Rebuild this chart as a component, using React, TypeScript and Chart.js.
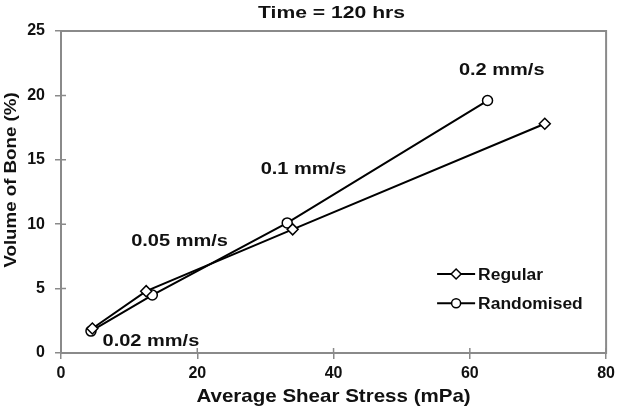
import React, { useEffect, useRef } from "react";
import { Chart, registerables } from "chart.js";

Chart.register(...registerables);

const seriesNames = ["Regular", "Randomised"];
const regularX = [4.6, 12.5, 34.0, 71.0];
const regularY = [1.9, 4.8, 9.6, 17.8];
const randomX = [4.4, 13.4, 33.2, 62.6];
const randomY = [1.7, 4.5, 10.1, 19.6];
const speedLabels = ["0.02 mm/s", "0.05 mm/s", "0.1 mm/s", "0.2 mm/s"];
const speedLabelX = [6.1, 10.3, 29.3, 58.4];
const speedLabelY = [0.57, 8.32, 13.9, 21.6];
const xTicks = [0, 20, 40, 60, 80];
const yTicks = [0, 5, 10, 15, 20, 25];
const titleText = "Time = 120 hrs";
const xTitle = "Average Shear Stress (mPa)";
const yTitle = "Volume of Bone (%)";

const FONT = "'Liberation Sans', Arial, sans-serif";
const AXIS_GRAY = "#8a8a8a";
const TEXT = "#111";

function drawText(
  ctx: CanvasRenderingContext2D,
  text: string,
  x: number,
  y: number,
  size: number,
  sx: number,
  align: CanvasTextAlign,
  rotate = false
) {
  ctx.save();
  ctx.translate(x, y);
  if (rotate) ctx.rotate(-Math.PI / 2);
  ctx.scale(sx, 1);
  ctx.font = `bold ${size}px ${FONT}`;
  ctx.fillStyle = TEXT;
  ctx.textAlign = align;
  ctx.textBaseline = "alphabetic";
  ctx.fillText(text, 0, 0);
  ctx.restore();
}

const decorPlugin = {
  id: "decor",
  beforeDatasetsDraw(chart: any) {
    const { ctx, chartArea: a, scales } = chart;
    ctx.save();
    ctx.strokeStyle = AXIS_GRAY;
    ctx.lineWidth = 2;
    ctx.strokeRect(a.left, a.top, a.right - a.left, a.bottom - a.top);
    ctx.lineWidth = 1.5;
    ctx.beginPath();
    xTicks.forEach((v) => {
      const px = scales.x.getPixelForValue(v);
      ctx.moveTo(px, a.bottom);
      ctx.lineTo(px, a.bottom - 5);
    });
    yTicks.forEach((v) => {
      const py = scales.y.getPixelForValue(v);
      ctx.moveTo(a.left, py);
      ctx.lineTo(a.left + 5, py);
    });
    ctx.stroke();
    ctx.restore();
  },
  afterDraw(chart: any) {
    const { ctx, chartArea: a, scales } = chart;
    const cx = (a.left + a.right) / 2;
    // title
    drawText(ctx, titleText, cx - 2, 17.5, 16, 1.32, "center");
    // axis titles
    drawText(ctx, xTitle, cx, 401.5, 18.5, 1.11, "center");
    drawText(ctx, yTitle, 16, 180, 17, 1.1, "center", true);
    // speed annotations
    speedLabels.forEach((t, i) => {
      drawText(
        ctx,
        t,
        scales.x.getPixelForValue(speedLabelX[i]),
        scales.y.getPixelForValue(speedLabelY[i]),
        16,
        1.25,
        "left"
      );
    });
    // legend
    const lx0 = a.right - 169;
    const lx1 = a.right - 131;
    const rows = [a.bottom - 79, a.bottom - 49.7];
    chart.data.datasets.forEach((ds: any, i: number) => {
      const y = rows[i];
      ctx.save();
      ctx.strokeStyle = "#000";
      ctx.lineWidth = 2;
      ctx.beginPath();
      ctx.moveTo(lx0, y);
      ctx.lineTo(lx1, y);
      ctx.stroke();
      ctx.fillStyle = "#fff";
      ctx.lineWidth = 1.5;
      const mx = (lx0 + lx1) / 2;
      ctx.beginPath();
      if (ds.pointStyle === "rectRot") {
        ctx.moveTo(mx, y - 5);
        ctx.lineTo(mx + 5, y);
        ctx.lineTo(mx, y + 5);
        ctx.lineTo(mx - 5, y);
        ctx.closePath();
      } else {
        ctx.arc(mx, y, 4.5, 0, Math.PI * 2);
      }
      ctx.fill();
      ctx.stroke();
      ctx.restore();
      drawText(ctx, ds.label, lx1 + 3, y + 6, 16, 1.09, "left");
    });
  },
};

export default function App() {
  const ref = useRef<HTMLCanvasElement>(null);
  useEffect(() => {
    if (!ref.current) return;
    const chart = new Chart(ref.current, {
      type: "scatter",
      data: {
        datasets: [
          {
            label: seriesNames[0],
            data: regularX.map((x, i) => ({ x, y: regularY[i] })),
            showLine: true,
            borderColor: "#000",
            borderWidth: 2,
            pointStyle: "rectRot",
            pointRadius: 5.5,
            pointBackgroundColor: "#fff",
            pointBorderColor: "#000",
            pointBorderWidth: 1.5,
          },
          {
            label: seriesNames[1],
            data: randomX.map((x, i) => ({ x, y: randomY[i] })),
            showLine: true,
            borderColor: "#000",
            borderWidth: 2,
            pointStyle: "circle",
            pointRadius: 5,
            pointBackgroundColor: "#fff",
            pointBorderColor: "#000",
            pointBorderWidth: 1.5,
          },
        ],
      },
      options: {
        animation: false,
        responsive: true,
        maintainAspectRatio: false,
        layout: { padding: { top: 31, right: 12, left: 0, bottom: 0 } },
        plugins: {
          legend: { display: false },
          title: { display: false },
          tooltip: { enabled: false },
        },
        scales: {
          x: {
            type: "linear",
            min: 0,
            max: 80,
            afterBuildTicks: (s: any) => {
              s.ticks = xTicks.map((v) => ({ value: v }));
            },
            afterFit: (s: any) => {
              s.height = 56;
            },
            grid: { drawOnChartArea: false, drawTicks: true, tickLength: 6, color: AXIS_GRAY, lineWidth: 1.5 },
            border: { display: false },
            ticks: { color: TEXT, font: { family: FONT, size: 16, weight: "bold" }, padding: 5 },
            title: { display: false },
          },
          y: {
            type: "linear",
            min: 0,
            max: 25,
            afterBuildTicks: (s: any) => {
              s.ticks = yTicks.map((v) => ({ value: v }));
            },
            afterFit: (s: any) => {
              s.width = 61;
            },
            grid: { drawOnChartArea: false, drawTicks: true, tickLength: 6, color: AXIS_GRAY, lineWidth: 1.5 },
            border: { display: false },
            ticks: { color: TEXT, font: { family: FONT, size: 16, weight: "bold" }, padding: 10 },
            title: { display: false },
          },
        },
      } as any,
      plugins: [decorPlugin],
    });
    return () => chart.destroy();
  }, []);
  return (
    <div style={{ position: "absolute", left: 0, top: 0, width: 620, height: 409, background: "#fff" }}>
      <canvas ref={ref} />
    </div>
  );
}
